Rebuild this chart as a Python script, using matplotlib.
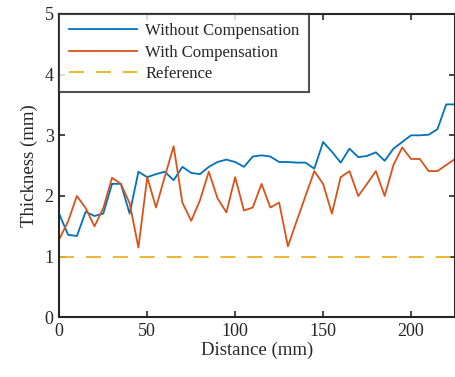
import matplotlib
matplotlib.use("Agg")
import matplotlib.pyplot as plt

# distance along the part (mm)
distance = [0, 5, 10, 15, 20, 25, 30, 35, 40, 45, 50, 55, 60, 65, 70, 75, 80, 85, 90, 95,
            100, 105, 110, 115, 120, 125, 130, 135, 140, 145, 150, 155, 160, 165, 170, 175,
            180, 185, 190, 195, 200, 205, 210, 215, 220, 225]

# thickness without compensation (mm)
without_comp = [1.70, 1.36, 1.34, 1.74, 1.67, 1.71, 2.20, 2.20, 1.71, 2.40, 2.31, 2.36, 2.40, 2.26,
                2.48, 2.38, 2.36, 2.48, 2.56, 2.60, 2.56, 2.48, 2.65, 2.67, 2.65, 2.56, 2.56, 2.55,
                2.55, 2.45, 2.89, 2.73, 2.55, 2.78, 2.64, 2.66, 2.72, 2.58, 2.78, 2.89, 3.00, 3.00,
                3.01, 3.10, 3.51, 3.51]

# thickness with compensation (mm)
with_comp = [1.29, 1.58, 2.00, 1.80, 1.50, 1.80, 2.30, 2.20, 1.88, 1.15, 2.31, 1.81, 2.32, 2.82,
             1.89, 1.59, 1.93, 2.40, 1.96, 1.73, 2.31, 1.76, 1.81, 2.20, 1.81, 1.89, 1.17, 1.59,
             2.00, 2.41, 2.20, 1.71, 2.31, 2.41, 2.00, 2.20, 2.41, 2.00, 2.51, 2.80, 2.61, 2.61,
             2.41, 2.41, 2.51, 2.61]

reference = 1.0

plt.rcParams['font.family'] = ['Liberation Serif', 'DejaVu Serif']
plt.rcParams['mathtext.fontset'] = 'stix'
dark = '#262626'

fig = plt.figure(figsize=(4.56, 3.77), dpi=100)
ax = fig.add_axes([59.3 / 456, 59.7 / 377, (455 - 59.3) / 456, (317.3 - 14) / 377])

ax.plot(distance, without_comp, color='#0072BD', linewidth=1.3, label='Without Compensation')
ax.plot(distance, with_comp, color='#D95319', linewidth=1.3, label='With Compensation')
ref_line, = ax.plot([distance[0], distance[-1]], [reference, reference], color='#EDB120',
                    linewidth=1.3, label='Reference')
ref_line.set_dashes([8.3, 6.6])

ax.set_xlim(0, 225)
ax.set_ylim(0, 5)
ax.set_xticks([0, 50, 100, 150, 200])
ax.set_yticks([0, 1, 2, 3, 4, 5])
ax.tick_params(direction='in', top=True, right=True, length=4, width=1.2,
               labelsize=13, colors=dark, pad=4)
for s in ax.spines.values():
    s.set_linewidth(1.5)
    s.set_color(dark)

ax.set_xlabel('Distance (mm)', fontsize=13.5, color=dark, labelpad=1)
ax.set_ylabel('Thickness (mm)', fontsize=13.5, color=dark, labelpad=5)

leg = ax.legend(loc='upper left', bbox_to_anchor=(0, 1), borderaxespad=0, fontsize=12,
                frameon=True, fancybox=False, handlelength=4.1, handletextpad=0.5,
                labelspacing=0.33, borderpad=0.56)
leg.get_frame().set_edgecolor(dark)
leg.get_frame().set_linewidth(1.5)
for t in leg.get_texts():
    t.set_color(dark)

fig.savefig('out.png', dpi=100)
